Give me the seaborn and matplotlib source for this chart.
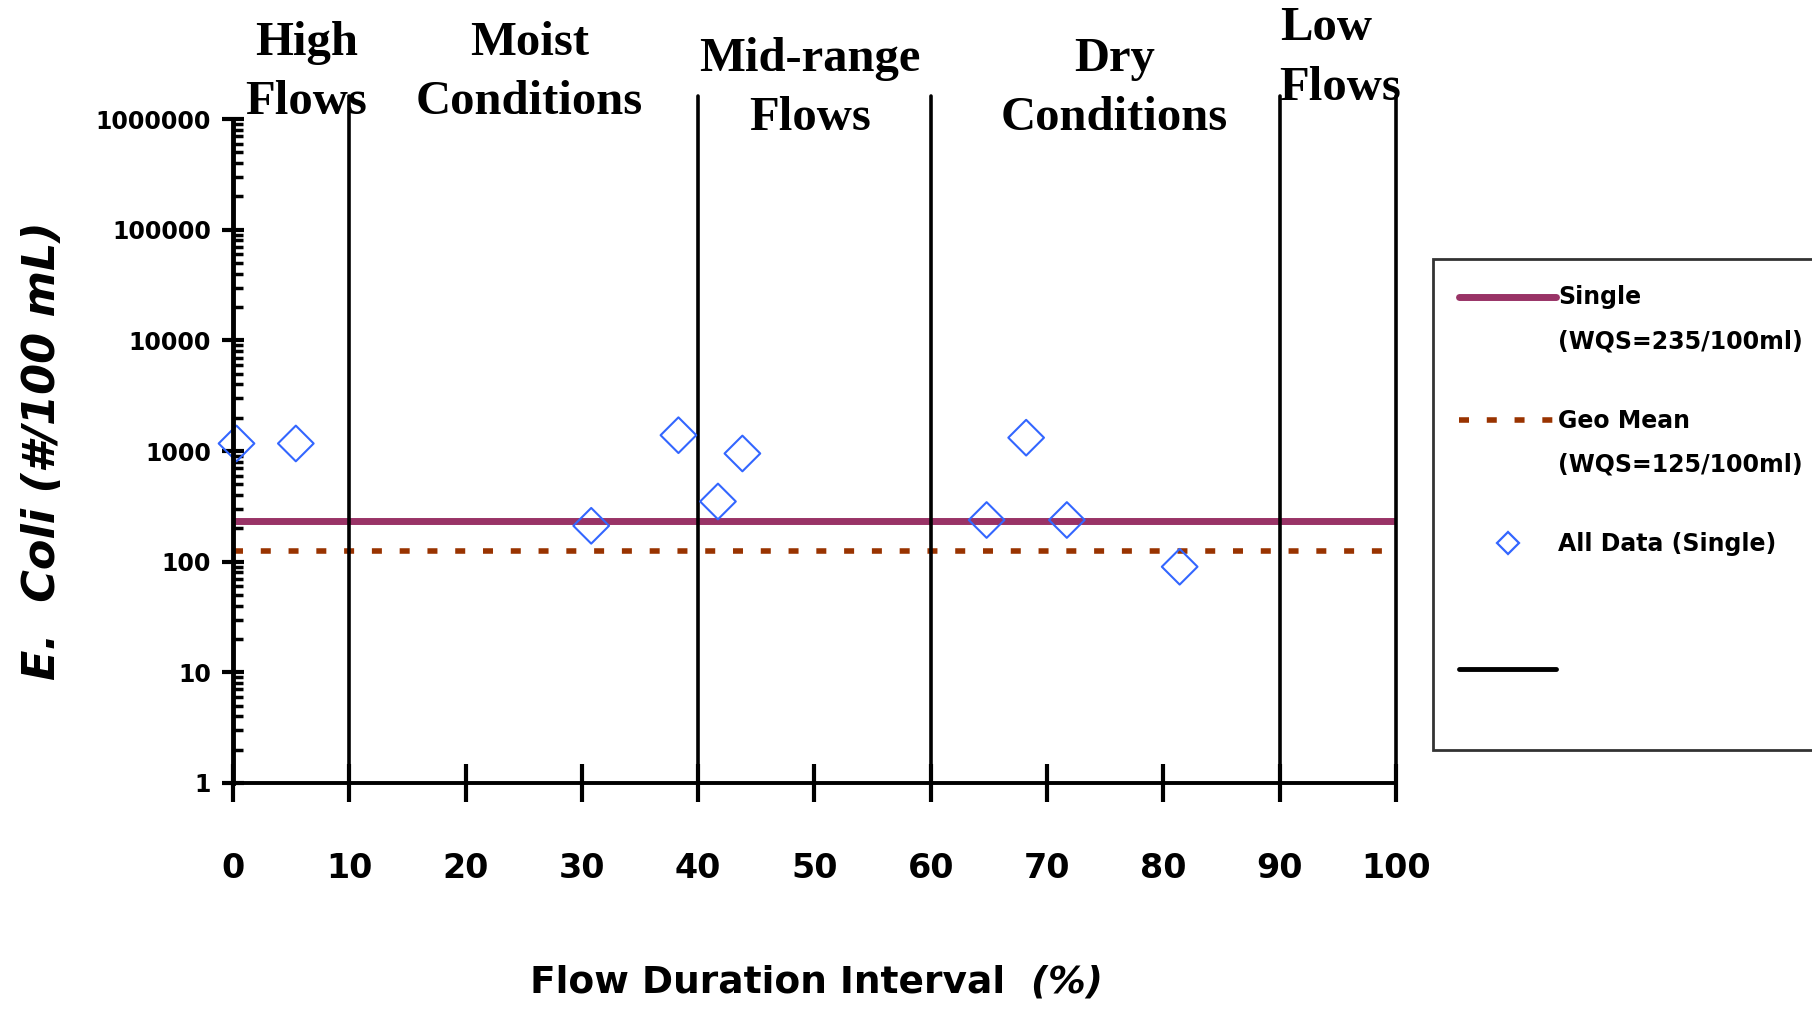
import matplotlib
matplotlib.use('Agg')
import matplotlib.pyplot as plt
from matplotlib.lines import Line2D
import seaborn as sns
import pandas as pd
import numpy as np

# data
flow_pct = [0.3, 5.4, 30.8, 38.3, 41.7, 43.8, 64.8, 68.2, 71.7, 81.4]
ecoli = [1170, 1170, 211, 1390, 350, 950, 238, 1320, 238, 90]
single_wqs = 235
geo_wqs = 125
zone_edges = [10, 40, 60, 90, 100]
zone_names = ["High\nFlows", "Moist\nConditions", "Mid-range\nFlows", "Dry\nConditions", "Low\nFlows"]
y_ticks = [1, 10, 100, 1000, 10000, 100000, 1000000]
x_ticks = [0, 10, 20, 30, 40, 50, 60, 70, 80, 90, 100]

# label layout (x in %, y in axes fraction)
zone_lx = [6.3, 25.5, 49.6, 75.8, 90.0]
zone_ly = [1.07, 1.07, 1.046, 1.046, 1.092]
zone_ha = ['center', 'center', 'center', 'center', 'left']

df = pd.DataFrame({'flow': flow_pct, 'ecoli': ecoli})

sns.set_style('white')
plt.rcParams['font.family'] = ['DejaVu Sans']
plt.rcParams.update({'text.color': 'black', 'axes.labelcolor': 'black',
                     'xtick.color': 'black', 'ytick.color': 'black',
                     'axes.edgecolor': 'black'})

fig = plt.figure(figsize=(18.12, 10.09), dpi=100)
ax = fig.add_axes([0.1286, 0.224, 0.6418, 0.658])

PURPLE = '#993366'
BROWN = '#993300'
BLUE = '#3366FF'

ax.axhline(single_wqs, color=PURPLE, lw=5, zorder=2)
ax.axhline(geo_wqs, color=BROWN, lw=4, dashes=(1.8, 3.2), zorder=2)

for xe in zone_edges:
    ax.plot([xe, xe], [0, 1.035], color='black', lw=2.6, clip_on=False,
            transform=ax.get_xaxis_transform(), zorder=3)

sns.scatterplot(data=df, x='flow', y='ecoli', marker='D', s=330,
                facecolor='none', edgecolor=BLUE, linewidth=1.5, ax=ax,
                zorder=4, clip_on=False)

ax.set_yscale('log')
ax.set_ylim(1, 1000000)
ax.set_xlim(0, 100)
ax.set_yticks(y_ticks)
ax.set_yticklabels([str(v) for v in y_ticks])
ax.set_xticks(x_ticks)
ax.set_xticklabels([str(v) for v in x_ticks])

for s in ['top', 'right']:
    ax.spines[s].set_visible(False)
ax.spines['left'].set_linewidth(3.5)
ax.spines['bottom'].set_linewidth(2.8)
ax.spines['left'].set_zorder(5)

ax.tick_params(axis='y', which='major', direction='inout', length=16, width=3,
               labelsize=17, pad=8, left=True)
ax.tick_params(axis='y', which='minor', direction='in', length=7, width=2.5, left=True)
ax.tick_params(axis='x', which='major', direction='inout', length=27, width=3,
               labelsize=24, pad=36, bottom=True)
for lab in ax.get_yticklabels() + ax.get_xticklabels():
    lab.set_fontweight('bold')

# x label: plain part + italic "(%)"
ax.set_xlabel('')
ax.text(0.664, -0.30, 'Flow Duration Interval', transform=ax.transAxes,
        ha='right', va='center', fontsize=27, fontweight='bold')
ax.text(0.664, -0.30, '  (%)', transform=ax.transAxes,
        ha='left', va='center', fontsize=27, fontweight='bold', style='italic')
ax.set_ylabel('E.  Coli (#/100 mL)', fontsize=32, fontweight='bold', style='italic')
ax.yaxis.set_label_coords(-0.145, 0.5)

for name, lx, ly, ha in zip(zone_names, zone_lx, zone_ly, zone_ha):
    ax.text(lx, ly, name, transform=ax.get_xaxis_transform(), ha=ha, va='center',
            fontsize=35, fontweight='bold', family='Liberation Serif',
            linespacing=1.45)

handles = [
    Line2D([], [], color=PURPLE, lw=5),
    Line2D([], [], color=BROWN, lw=4, dashes=(1.8, 3.2)),
    Line2D([], [], ls='none', marker='D', ms=11, mfc='none', mec=BLUE, mew=1.6),
    Line2D([], [], color='black', lw=3.5),
]
labels = ['Single\n(WQS=235/100ml)', 'Geo Mean\n(WQS=125/100ml)', 'All Data (Single)', '\n \n ']
leg = fig.legend(handles, labels, loc='upper left', bbox_to_anchor=(0.791, 0.743),
                 borderaxespad=0, frameon=True, fancybox=False, edgecolor='black',
                 prop={'size': 17, 'weight': 'bold'}, handlelength=4.1,
                 handletextpad=0.1, labelspacing=2.35, borderpad=1.1)
leg.get_frame().set_linewidth(2)
for t in leg.get_texts():
    t.set_linespacing(2.05)
# put the line keys level with the first text line, as in the original
for line in leg.get_lines()[:2]:
    line.set_ydata(np.asarray(line.get_ydata()) + 17)

fig.savefig('out.png', dpi=100)
